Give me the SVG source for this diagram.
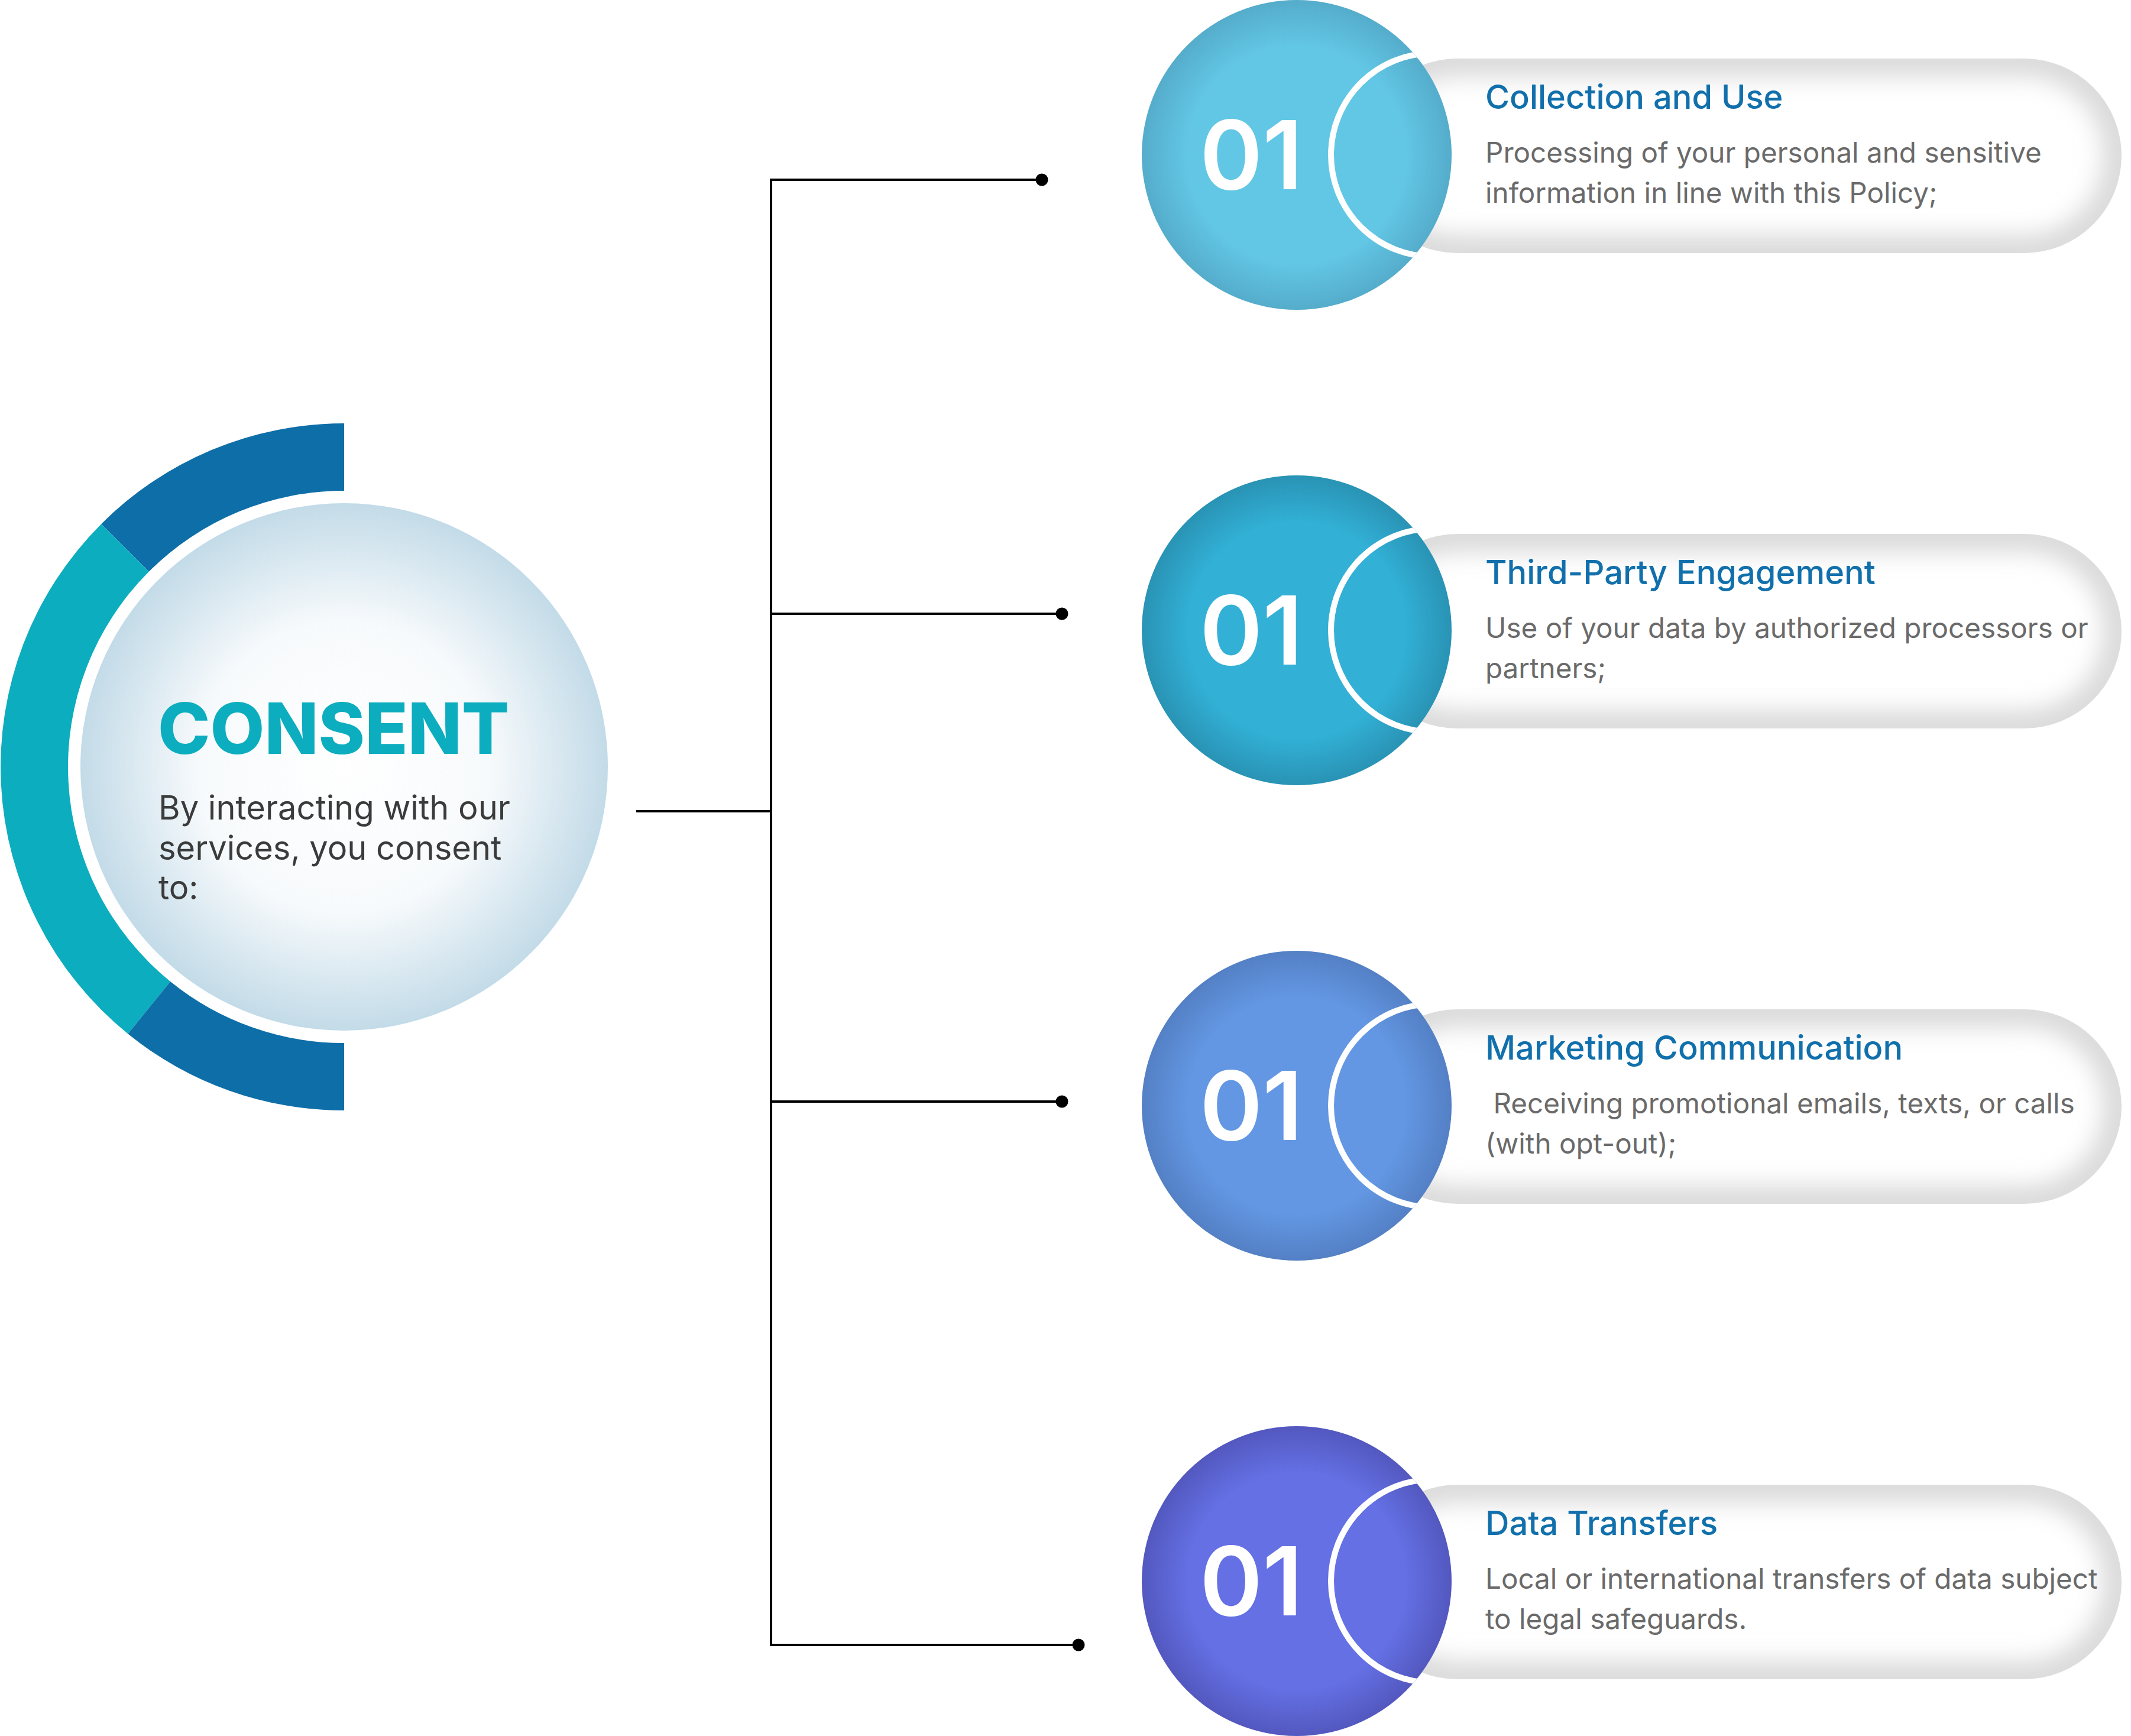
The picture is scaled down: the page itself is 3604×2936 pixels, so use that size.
<svg xmlns="http://www.w3.org/2000/svg" width="3604" height="2936" viewBox="0 0 3604 2936">
<style>
.title{font-family:Inter,"Liberation Sans",sans-serif;font-size:56px;font-weight:500;fill:#1170ac}
.desc{font-family:Inter,"Liberation Sans",sans-serif;font-size:47.6px;font-weight:400;fill:#6a6a6a;white-space:pre}
.num{font-family:Inter,"Liberation Sans",sans-serif;font-size:161px;font-weight:600;fill:#ffffff}
.body{font-family:Inter,"Liberation Sans",sans-serif;font-size:56px;font-weight:400;fill:#3b3b3b}
.head{font-family:Inter,"Liberation Sans",sans-serif;font-size:119px;font-weight:800;fill:#0cadbe}
.line{stroke:#000;stroke-width:4;fill:none}
.ring{fill:none;stroke:#fff;stroke-width:10}
.pill{fill:#ffffff}
.pillshade{fill:none;stroke:#d6d6d6;stroke-width:56}
</style>
<defs>
<radialGradient id="gc" cx="0.5" cy="0.5" r="0.5">
<stop offset="0" stop-color="#ffffff"/>
<stop offset="0.55" stop-color="#f7fafc"/>
<stop offset="1" stop-color="#c3dbe8"/>
</radialGradient>
<radialGradient id="g1" cx="0.5" cy="0.5" r="0.5">
<stop offset="0.7" stop-color="#62c7e5"/>
<stop offset="1" stop-color="#55accb"/>
</radialGradient>
<radialGradient id="g2" cx="0.5" cy="0.5" r="0.5">
<stop offset="0.7" stop-color="#32b0d6"/>
<stop offset="1" stop-color="#2993b4"/>
</radialGradient>
<radialGradient id="g3" cx="0.5" cy="0.5" r="0.5">
<stop offset="0.7" stop-color="#6397e3"/>
<stop offset="1" stop-color="#5480c5"/>
</radialGradient>
<radialGradient id="g4" cx="0.5" cy="0.5" r="0.5">
<stop offset="0.7" stop-color="#6470e4"/>
<stop offset="1" stop-color="#5358bf"/>
</radialGradient>
<filter id="soft" x="-0.1" y="-0.3" width="1.2" height="1.6"><feGaussianBlur stdDeviation="22"/></filter>
<clipPath id="pillClip"><rect x="2300" y="-163" width="1288" height="329" rx="164.5"/></clipPath>
<clipPath id="bigClip"><circle cx="2193" cy="0" r="262"/></clipPath>
</defs>

<g id="consent">
<path fill="#0e6ea8" d="M 582 716 A 581 581 0 0 0 171.2 886.2 L 251.8 966.8 A 467 467 0 0 1 582 830 Z"/>
<path fill="#0cadbe" d="M 171.2 886.2 A 581 581 0 0 0 216.4 1748.5 L 288.1 1659.9 A 467 467 0 0 1 251.8 966.8 Z"/>
<path fill="#0e6ea8" d="M 216.4 1748.5 A 581 581 0 0 0 582 1878 L 582 1764 A 467 467 0 0 1 288.1 1659.9 Z"/>
<circle cx="582" cy="1297" r="446" fill="url(#gc)"/>
<text class="head" x="267" y="1275">CONSENT</text>
<text class="body" x="268" y="1386">By interacting with our</text>
<text class="body" x="268" y="1454">services, you consent</text>
<text class="body" x="268" y="1521">to:</text>
</g>

<g id="connectors">
<path class="line" d="M 1076 1372 H 1304"/>
<path class="line" d="M 1304 304 V 2782"/>
<path class="line" d="M 1302 304 H 1762"/>
<path class="line" d="M 1302 1038 H 1796"/>
<path class="line" d="M 1302 1863 H 1796"/>
<path class="line" d="M 1302 2782 H 1824"/>
<circle cx="1762" cy="304" r="10.5"/>
<circle cx="1796" cy="1038" r="10.5"/>
<circle cx="1796" cy="1863" r="10.5"/>
<circle cx="1824" cy="2782" r="10.5"/>
</g>

<g id="card1" transform="translate(0,262)">
<rect class="pill" x="2300" y="-163" width="1288" height="329" rx="164.5"/>
<rect class="pillshade" x="2300" y="-163" width="1288" height="329" rx="164.5" clip-path="url(#pillClip)" filter="url(#soft)"/>
<circle cx="2193" cy="0" r="262" fill="url(#g1)"/>
<circle class="ring" cx="2423" cy="0" r="172" clip-path="url(#bigClip)"/>
<text class="num" x="2029" y="58">01</text>
<text class="title" x="2512" y="-78">Collection and Use</text>
<text class="desc" x="2512" y="13">Processing of your personal and sensitive</text>
<text class="desc" x="2512" y="81">information in line with this Policy;</text>
</g>

<g id="card2" transform="translate(0,1066)">
<rect class="pill" x="2300" y="-163" width="1288" height="329" rx="164.5"/>
<rect class="pillshade" x="2300" y="-163" width="1288" height="329" rx="164.5" clip-path="url(#pillClip)" filter="url(#soft)"/>
<circle cx="2193" cy="0" r="262" fill="url(#g2)"/>
<circle class="ring" cx="2423" cy="0" r="172" clip-path="url(#bigClip)"/>
<text class="num" x="2029" y="58">01</text>
<text class="title" x="2512" y="-78">Third-Party Engagement</text>
<text class="desc" x="2512" y="13">Use of your data by authorized processors or</text>
<text class="desc" x="2512" y="81">partners;</text>
</g>

<g id="card3" transform="translate(0,1870)">
<rect class="pill" x="2300" y="-163" width="1288" height="329" rx="164.5"/>
<rect class="pillshade" x="2300" y="-163" width="1288" height="329" rx="164.5" clip-path="url(#pillClip)" filter="url(#soft)"/>
<circle cx="2193" cy="0" r="262" fill="url(#g3)"/>
<circle class="ring" cx="2423" cy="0" r="172" clip-path="url(#bigClip)"/>
<text class="num" x="2029" y="58">01</text>
<text class="title" x="2512" y="-78">Marketing Communication</text>
<text class="desc" x="2512" y="13"> Receiving promotional emails, texts, or calls</text>
<text class="desc" x="2512" y="81">(with opt-out);</text>
</g>

<g id="card4" transform="translate(0,2674)">
<rect class="pill" x="2300" y="-163" width="1288" height="329" rx="164.5"/>
<rect class="pillshade" x="2300" y="-163" width="1288" height="329" rx="164.5" clip-path="url(#pillClip)" filter="url(#soft)"/>
<circle cx="2193" cy="0" r="262" fill="url(#g4)"/>
<circle class="ring" cx="2423" cy="0" r="172" clip-path="url(#bigClip)"/>
<text class="num" x="2029" y="58">01</text>
<text class="title" x="2512" y="-78">Data Transfers</text>
<text class="desc" x="2512" y="13">Local or international transfers of data subject</text>
<text class="desc" x="2512" y="81">to legal safeguards.</text>
</g>
</svg>
